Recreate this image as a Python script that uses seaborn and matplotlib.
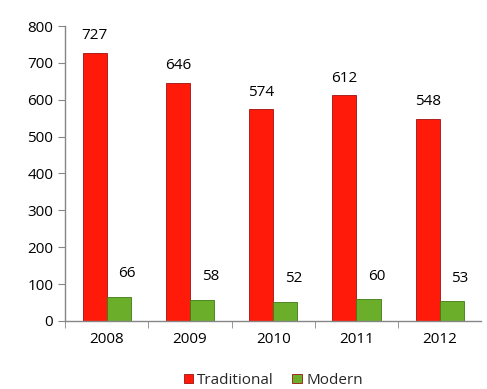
import matplotlib
matplotlib.use("Agg")
import matplotlib.pyplot as plt
import seaborn as sns
import pandas as pd

years = ["2008", "2009", "2010", "2011", "2012"]
traditional = [727, 646, 574, 612, 548]
modern = [66, 58, 52, 60, 53]
series = ["Traditional", "Modern"]

df = pd.DataFrame({
    "year": years * 2,
    "value": traditional + modern,
    "type": ["Traditional"] * len(years) + ["Modern"] * len(years),
})

sns.set_style("white")
plt.rcParams["font.family"] = ["Open Sans", "DejaVu Sans"]

fig = plt.figure(figsize=(4.87, 3.89), dpi=100)
ax = fig.add_axes([0.1335, 0.175, 0.855, 0.758])

palette = {"Traditional": "#FF1A0A", "Modern": "#6BAE2A"}
sns.barplot(data=df, x="year", y="value", hue="type", hue_order=series,
            palette=palette, width=0.58, ax=ax, saturation=1,
            edgecolor="#A01010", linewidth=0.6)
for bar in ax.containers[1]:
    bar.set_edgecolor("#3F7A14")

for cont, dx, dy in [(ax.containers[0], 0, 7), (ax.containers[1], 6, 11)]:
    for bar in cont:
        h = bar.get_height()
        ax.annotate(f"{int(h)}", (bar.get_x() + bar.get_width() / 2, h),
                    xytext=(dx, dy), textcoords="offset points",
                    ha="center", va="bottom", fontsize=11, color="black")

ax.set_ylim(0, 800)
ax.set_xlim(-0.5, 4.5)
ax.set_yticks(range(0, 801, 100))
ax.set_xlabel("")
ax.set_ylabel("")
ax.set_xticks([-0.5, 0.5, 1.5, 2.5, 3.5], minor=True)
ax.tick_params(axis="x", which="major", length=0, labelsize=11, pad=8, labelcolor="black")
ax.tick_params(axis="x", which="minor", length=5, color="#868686", direction="out", bottom=True)
ax.tick_params(axis="y", length=5, color="#868686", direction="out", left=True,
               labelsize=11, labelcolor="black")
sns.despine(ax=ax)
for s in ["left", "bottom"]:
    ax.spines[s].set_color("#868686")
    ax.spines[s].set_linewidth(1.0)

ax.legend(loc="upper center", bbox_to_anchor=(0.5, -0.13), ncol=2, frameon=False,
          fontsize=11, handlelength=0.6, handleheight=0.6, handletextpad=0.3,
          columnspacing=1.2)

fig.savefig("out.png", dpi=100)
